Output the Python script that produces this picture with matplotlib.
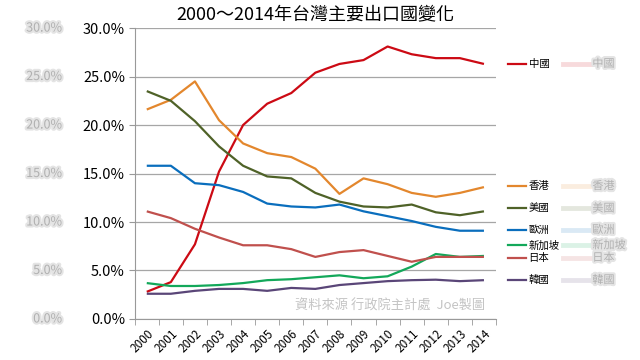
import matplotlib
matplotlib.use("Agg")
import matplotlib.pyplot as plt
import matplotlib.patheffects as pe
from matplotlib.ticker import FuncFormatter, FixedLocator

plt.rcParams['font.family'] = ['Noto Sans CJK TC', 'DejaVu Sans']

years = [str(y) for y in range(2000, 2015)]
china     = [2.8, 3.8, 7.7, 15.2, 20.0, 22.2, 23.3, 25.4, 26.3, 26.7, 28.1, 27.3, 26.9, 26.9, 26.3]
hongkong  = [21.6, 22.6, 24.5, 20.5, 18.1, 17.1, 16.7, 15.5, 12.9, 14.5, 13.9, 13.0, 12.6, 13.0, 13.6]
usa       = [23.5, 22.5, 20.4, 17.8, 15.8, 14.7, 14.5, 13.0, 12.1, 11.6, 11.5, 11.8, 11.0, 10.7, 11.1]
europe    = [15.8, 15.8, 14.0, 13.8, 13.1, 11.9, 11.6, 11.5, 11.8, 11.1, 10.6, 10.1, 9.5, 9.1, 9.1]
singapore = [3.7, 3.4, 3.4, 3.5, 3.7, 4.0, 4.1, 4.3, 4.5, 4.2, 4.4, 5.4, 6.7, 6.4, 6.5]
japan     = [11.1, 10.4, 9.3, 8.4, 7.6, 7.6, 7.2, 6.4, 6.9, 7.1, 6.5, 5.9, 6.4, 6.4, 6.4]
korea     = [2.6, 2.6, 2.9, 3.1, 3.1, 2.9, 3.2, 3.1, 3.5, 3.7, 3.9, 4.0, 4.05, 3.9, 4.0]

names  = ['中國', '香港', '美國', '歐洲', '新加坡', '日本', '韓國']
series = [china, hongkong, usa, europe, singapore, japan, korea]
colors = ['#CC0A14', '#E3872D', '#4F6228', '#0A6EBD', '#13A85A', '#C0504D', '#5A4678']
# vertical nudges for the right-hand labels (percentage points)
label_shift = [0.0, 0.1, 0.3, 0.1, 1.1, -0.1, 0.0]

fig = plt.figure(figsize=(6.4, 3.6), dpi=100)
ax = fig.add_axes([0.2105, 0.114, 0.5645, 0.808])

x = list(range(len(years)))
for vals, c in zip(series, colors):
    ax.plot(x, [v / 100 for v in vals], color=c, lw=1.6, solid_capstyle='butt')

ax.set_xlim(-0.5, len(years) - 0.5)
ax.set_ylim(0, 0.30)
ax.set_yticks([i * 0.05 for i in range(7)])
ax.yaxis.set_major_formatter(FuncFormatter(lambda v, p: f"{v * 100:.1f}%"))
ax.tick_params(axis='y', labelsize=10.5, length=4, color='#999999', pad=3)
ax.grid(axis='y', color='#a6a6a6', lw=0.9)
ax.set_axisbelow(True)

ax.set_xticks(x)
ax.set_xticklabels(years, rotation=45, ha='right', rotation_mode='anchor', fontsize=8.5)
ax.tick_params(axis='x', which='major', length=0, pad=6)
ax.xaxis.set_minor_locator(FixedLocator([i - 0.5 for i in range(len(years) + 1)]))
ax.tick_params(axis='x', which='minor', length=4, color='#999999')

for s in ['top', 'right']:
    ax.spines[s].set_visible(False)
for s in ['left', 'bottom']:
    ax.spines[s].set_color('#999999')

ax.set_title('2000～2014年台灣主要出口國變化', fontsize=13, pad=6)

blur = [pe.withStroke(linewidth=3, foreground='#e4e4e4')]

# right-hand labels next to line ends
for name, vals, c, dy in zip(names, series, colors, label_shift):
    yv = (vals[-1] + dy) / 100
    ax.plot([15.0, 15.75], [yv, yv], color=c, lw=1.6, clip_on=False)
    ax.text(15.85, yv, name, fontsize=7.5, va='center', ha='left', clip_on=False)
    # faint blurred copy further right
    ax.plot([17.3, 18.5], [yv, yv], color=c, lw=3.5, alpha=0.15, clip_on=False)
    ax.text(18.5, yv, name, fontsize=8, va='center', ha='left', color='#b0b0b0',
            clip_on=False, path_effects=blur)

# faint blurred copies of the y labels on the far left
for t in ax.get_yticks():
    fig.text(0.097, 0.114 + 0.808 * t / 0.30, f"{t * 100:.1f}%", fontsize=9,
             ha='right', va='center', color='#b0b0b0', path_effects=blur)

ax.text(0.97, 0.045, '資料來源 行政院主計處  Joe製圖', transform=ax.transAxes,
        fontsize=9.5, color='#c4c4c4', ha='right', va='center')

fig.savefig('out.png', dpi=100)
